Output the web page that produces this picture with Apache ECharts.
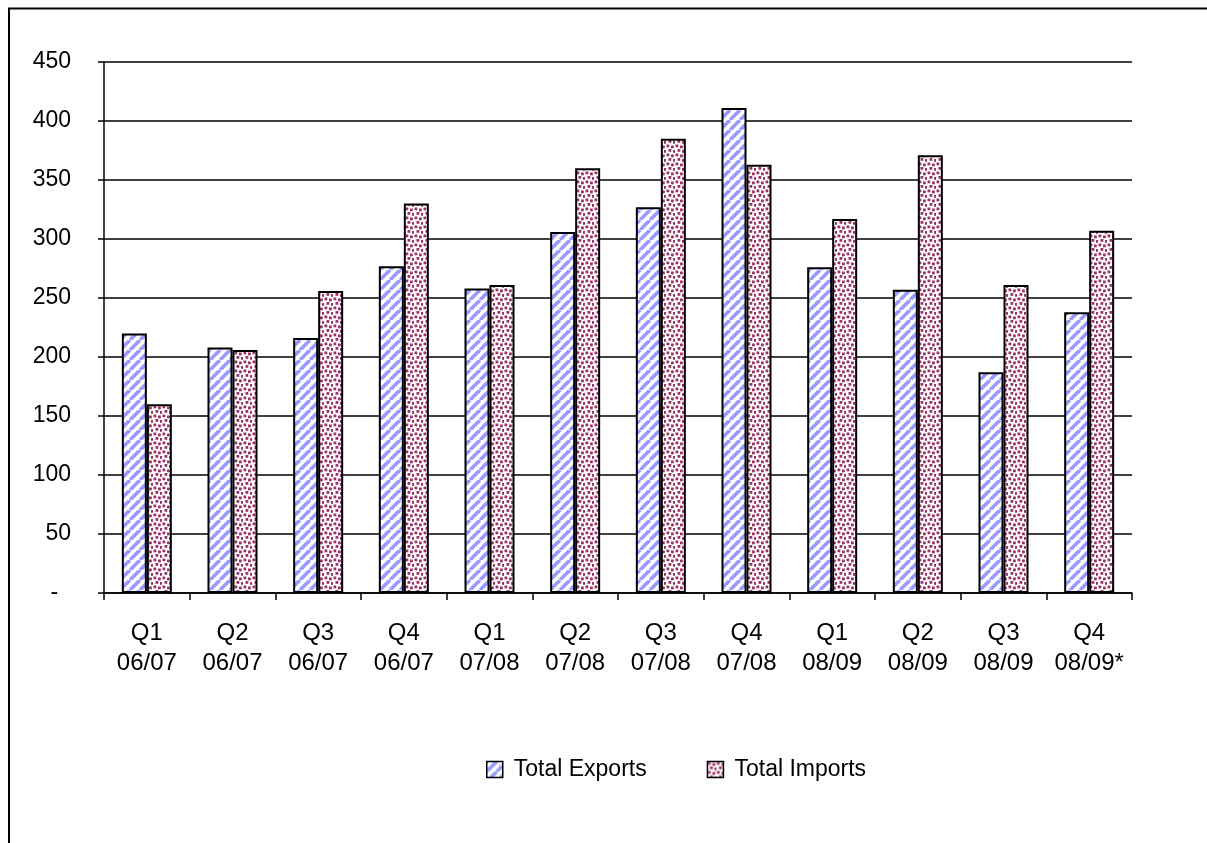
<!DOCTYPE html>
<html>
<head>
<meta charset="utf-8">
<script src="https://cdn.jsdelivr.net/npm/echarts@6/dist/echarts.min.js"></script>
<style>html,body{margin:0;padding:0;background:#fff;}#c{width:1207px;height:843px;}</style>
</head>
<body>
<div id="c"></div>
<script>
const categories = ['Q1\n06/07','Q2\n06/07','Q3\n06/07','Q4\n06/07','Q1\n07/08','Q2\n07/08','Q3\n07/08','Q4\n07/08','Q1\n08/09','Q2\n08/09','Q3\n08/09','Q4\n08/09*'];
const exportsData = [220, 208, 216, 277, 258, 306, 327, 411, 276, 257, 187, 238];
const importsData = [160, 206, 256, 330, 261, 360, 385, 363, 317, 371, 261, 307];
const yTicks = {min: 0, max: 450, interval: 50};

const dpr = window.devicePixelRatio || 1;
function makeTile(s, draw) {
  const c = document.createElement('canvas');
  c.width = Math.round(s * dpr); c.height = Math.round(s * dpr);
  const g = c.getContext('2d');
  g.scale(dpr, dpr);
  g.fillStyle = '#fff'; g.fillRect(0, 0, s, s);
  draw(g, s);
  return c;
}
function stripePattern() {
  return makeTile(10, (g, s) => {
    g.strokeStyle = '#9999FF'; g.lineWidth = 3.6;
    for (const k of [-s, 0, s]) {
      g.beginPath(); g.moveTo(k, s); g.lineTo(k + s, 0); g.stroke();
    }
  });
}
function dotPattern() {
  return makeTile(9, (g, s) => {
    g.fillStyle = '#993366';
    [[0.5,0.5],[5,1.5],[2.5,5],[7,6]].forEach(p => g.fillRect(p[0], p[1], 2.8, 2.8));
  });
}

const chart = echarts.init(document.getElementById('c'), null, {renderer: 'canvas'});
const font = 'Liberation Sans, Arial, sans-serif';
chart.setOption({
  animation: false,
  backgroundColor: '#fff',
  graphic: [{
    type: 'rect', silent: true,
    shape: {x: 9, y: 8.5, width: 1400, height: 1000},
    style: {fill: 'none', stroke: '#000', lineWidth: 2}
  }],
  grid: {left: 104, right: 75, top: 62, bottom: 250, containLabel: false},
  legend: {
    left: 481, top: 753,
    icon: 'rect',
    itemWidth: 16, itemHeight: 16, itemGap: 60,
    textStyle: {fontFamily: font, fontSize: 23, color: '#000', padding: [0,0,0,6]},
    itemStyle: {borderColor: '#000', borderWidth: 1.5},
    data: ['Total Exports', 'Total Imports']
  },
  xAxis: {
    type: 'category', data: categories,
    axisLine: {lineStyle: {color: '#000', width: 1.5}},
    axisTick: {show: true, length: 7, lineStyle: {color: '#000', width: 1.5}},
    axisLabel: {fontFamily: font, fontSize: 24, color: '#000', lineHeight: 30, margin: 25, interval: 0}
  },
  yAxis: {
    type: 'value', min: yTicks.min, max: yTicks.max, interval: yTicks.interval,
    axisLine: {show: true, lineStyle: {color: '#000', width: 1.5}},
    axisTick: {show: true, length: 6, lineStyle: {color: '#000', width: 1.5}},
    splitLine: {show: true, lineStyle: {color: '#000', width: 1.5}},
    axisLabel: {fontFamily: font, fontSize: 23, color: '#000', margin: 33,
      formatter: v => v === 0 ? '-  ' : String(v)}
  },
  series: [
    {name: 'Total Exports', type: 'bar', data: exportsData, barWidth: 25, barGap: '0%',
     itemStyle: {color: {image: stripePattern(), repeat: 'repeat'}, borderColor: '#000', borderWidth: 2}},
    {name: 'Total Imports', type: 'bar', data: importsData, barWidth: 25, barGap: '0%',
     itemStyle: {color: {image: dotPattern(), repeat: 'repeat'}, borderColor: '#000', borderWidth: 2}}
  ]
});
</script>
</body>
</html>
